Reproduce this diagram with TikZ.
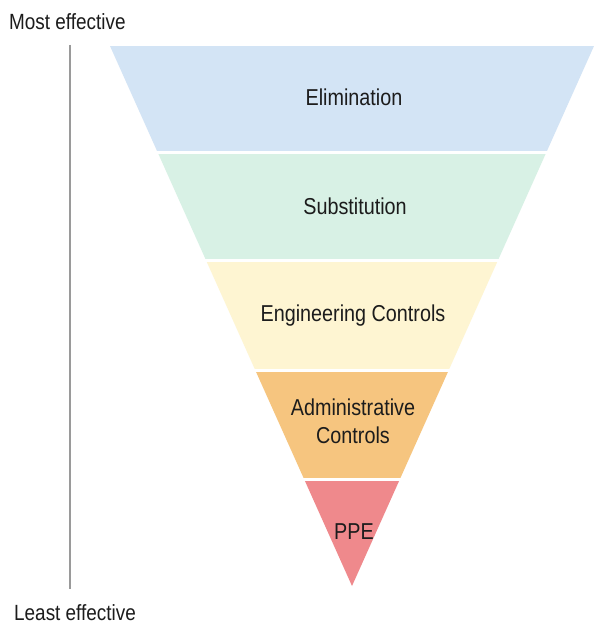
\documentclass[tikz,border=0pt]{standalone}
\usepackage{fontspec}
\setmainfont{Liberation Sans}[FakeStretch=0.86]
\definecolor{txt}{HTML}{1C1C1C}
\definecolor{cElim}{HTML}{D3E4F5}
\definecolor{cSub}{HTML}{D8F1E5}
\definecolor{cEng}{HTML}{FEF5D2}
\definecolor{cAdm}{HTML}{F6C57F}
\definecolor{cPPE}{HTML}{EF898C}
\definecolor{axis}{HTML}{9A9A9A}
\begin{document}
\begin{tikzpicture}[x=1pt,y=-1pt,
  lbl/.style={font=\fontsize{23}{28}\selectfont, text=txt, align=center, inner sep=0pt},
  side/.style={font=\fontsize{22}{26}\selectfont, text=txt, inner sep=0pt},
  axisline/.style={draw=axis, line width=1.4pt}]
\useasboundingbox[fill=white] (0,0) rectangle (594,626);
% funnel
\begin{scope}
  \clip (110,46) -- (594,46) -- (352,586) -- cycle;
  \fill[cElim] (0,46) rectangle (594,150.5);
  \fill[cSub] (0,153.5) rectangle (594,258.5);
  \fill[cEng] (0,261.5) rectangle (594,369);
  \fill[cAdm] (0,372) rectangle (594,477.5);
  \fill[cPPE] (0,480.5) rectangle (594,590);
\end{scope}
% labels
\node[lbl] (elim) at (354,97) {Elimination};
\node[lbl] (subst) at (355,206) {Substitution};
\node[lbl] (eng) at (353,316) {Engineering Controls};
\node[lbl] (adm) at (353,421) {Administrative\\Controls};
\node[lbl] (ppe) at (354,532) {PPE};
% axis
\coordinate (axtop) at (70,45);
\coordinate (axbot) at (70,589);
\draw[axisline] (axtop) -- (axbot);
\node[side, anchor=base west] (most) at (9,30) {Most effective};
\node[side, anchor=base west] (least) at (14,620) {Least effective};
\end{tikzpicture}
\end{document}
